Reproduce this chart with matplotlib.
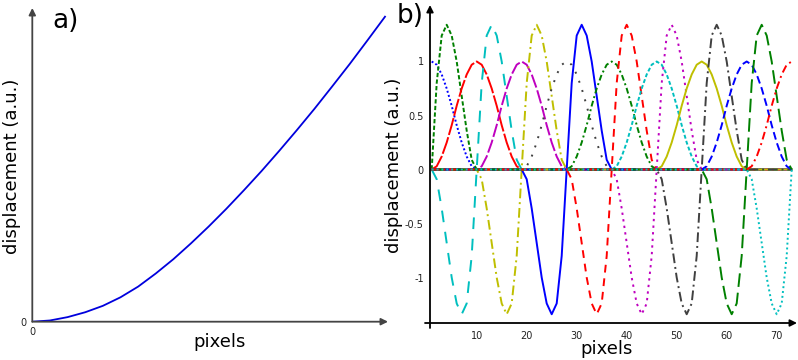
import matplotlib
matplotlib.use('Agg')
import matplotlib.pyplot as plt
import numpy as np

# panel a: displacement curve
a_x = [0, 0.05, 0.1, 0.15, 0.2, 0.25, 0.3, 0.35, 0.4, 0.45, 0.5, 0.55, 0.6, 0.65, 0.7, 0.75, 0.8, 0.85, 0.9, 0.95, 1.0]
a_y = [0, 0.004, 0.015, 0.031, 0.052, 0.08, 0.115, 0.158, 0.205, 0.257, 0.312, 0.37, 0.431, 0.494, 0.56, 0.628, 0.698, 0.771, 0.845, 0.922, 1.0]

# panel b: sampled basis functions, pixels 1..73, nodes every 9 pixels
b_pixels = np.arange(1, 74)
b_nodes = [1, 10, 19, 28, 37, 46, 55, 64, 73]
# shape of the functions around a node, offsets -9..9
bump_profile = [0, 0.03, 0.12, 0.25, 0.41, 0.59, 0.75, 0.88, 0.97, 1.0,
                0.97, 0.88, 0.75, 0.59, 0.41, 0.25, 0.12, 0.03, 0]
slope_profile = [0, -0.09, -0.36, -0.68, -1.0, -1.24, -1.34, -1.24, -0.8, 0,
                 0.8, 1.24, 1.34, 1.24, 1.0, 0.68, 0.36, 0.09, 0]

b_colors = ['b', 'g', 'r', 'c', 'm', 'y', '0.25',
            'b', 'g', 'r', 'c', 'm', 'y', '0.25',
            'b', 'g', 'r', 'c']
b_dashes = [(1, 1.2), (2.2, 1.2), (9, 1.2), (6, 5), (7, 1.5), (5, 2, 1, 2), (1, 4),
            (), (3, 1.5, 1, 1.5), (4, 3), (2, 1.2), (1.2, 2.2), (), (5, 2, 1, 2),
            (4, 2), (7, 3), (4, 2, 1, 2), (1, 1.5)]


def basis(profile, node):
    vals = np.zeros(len(b_pixels))
    for k, p in enumerate(b_pixels):
        off = p - node
        if -9 <= off <= 9:
            vals[k] = profile[off + 9]
    return vals


fig = plt.figure(figsize=(7.98, 3.6), dpi=100)

# ---- panel a ----
axa = fig.add_axes([32.3 / 798, 38.3 / 360, 355.7 / 798, 313.7 / 360])
axa.plot(a_x, a_y, color='#0000dd', lw=1.3)
axa.set_xlim(0, 1.0085)
axa.set_ylim(0, 1.0285)
for s in axa.spines.values():
    s.set_visible(False)
axa.set_xticks([0])
axa.set_yticks([0])
axa.set_xticklabels(['0'])
axa.set_yticklabels(['0'])
axa.tick_params(length=0, labelsize=7, pad=4, colors='#222222')
axa.patch.set_visible(False)
arrow_a = dict(arrowstyle='-|>', color='#444444', lw=1.3, mutation_scale=10, shrinkA=0, shrinkB=0)
axa.annotate('', xy=(1, 0), xytext=(0, 0), xycoords='axes fraction', arrowprops=arrow_a)
axa.annotate('', xy=(0, 1), xytext=(0, 0), xycoords='axes fraction', arrowprops=arrow_a)

# ---- panel b ----
axb = fig.add_axes([430 / 798, 37 / 360, 367 / 798, 318 / 360])
for i, node in enumerate(b_nodes):
    for j, prof in enumerate([bump_profile, slope_profile]):
        n = 2 * i + j
        line, = axb.plot(b_pixels, basis(prof, node), color=b_colors[n], lw=1.4)
        if b_dashes[n]:
            line.set_dashes(b_dashes[n])
axb.set_xlim(0.66, 74.06)
axb.set_ylim(-1.421, 1.523)
for s in axb.spines.values():
    s.set_visible(False)
axb.patch.set_visible(False)
axb.set_xticks([10, 20, 30, 40, 50, 60, 70])
axb.set_yticks([-1, -0.5, 0, 0.5, 1])
axb.set_yticklabels(['-1', '-0.5', '0', '0.5', '1'])
axb.tick_params(length=0, labelsize=7, colors='#222222')
axb.tick_params(axis='y', pad=4.5)
axb.tick_params(axis='x', pad=6)
arrow_b = dict(arrowstyle='-|>', color='k', lw=1.3, mutation_scale=10, shrinkA=0, shrinkB=0)
axb.annotate('', xy=(1, 0), xytext=(-0.0136, 0), xycoords='axes fraction', arrowprops=arrow_b)
axb.annotate('', xy=(0, 1), xytext=(0, -0.0157), xycoords='axes fraction', arrowprops=arrow_b)

# ---- labels ----
fig.text(65.5 / 798, 1 - 21 / 360, 'a)', fontsize=19, ha='center', va='center')
fig.text(410 / 798, 1 - 16 / 360, 'b)', fontsize=19, ha='center', va='center')
fig.text(12 / 798, 1 - 166 / 360, 'displacement (a.u.)', fontsize=13, rotation=90, ha='center', va='center')
fig.text(394 / 798, 1 - 165 / 360, 'displacement (a.u.)', fontsize=13, rotation=90, ha='center', va='center')
fig.text(220 / 798, 1 - 342 / 360, 'pixels', fontsize=13, ha='center', va='center')
fig.text(607 / 798, 1 - 349 / 360, 'pixels', fontsize=13, ha='center', va='center')

fig.savefig('out.png', dpi=100)
